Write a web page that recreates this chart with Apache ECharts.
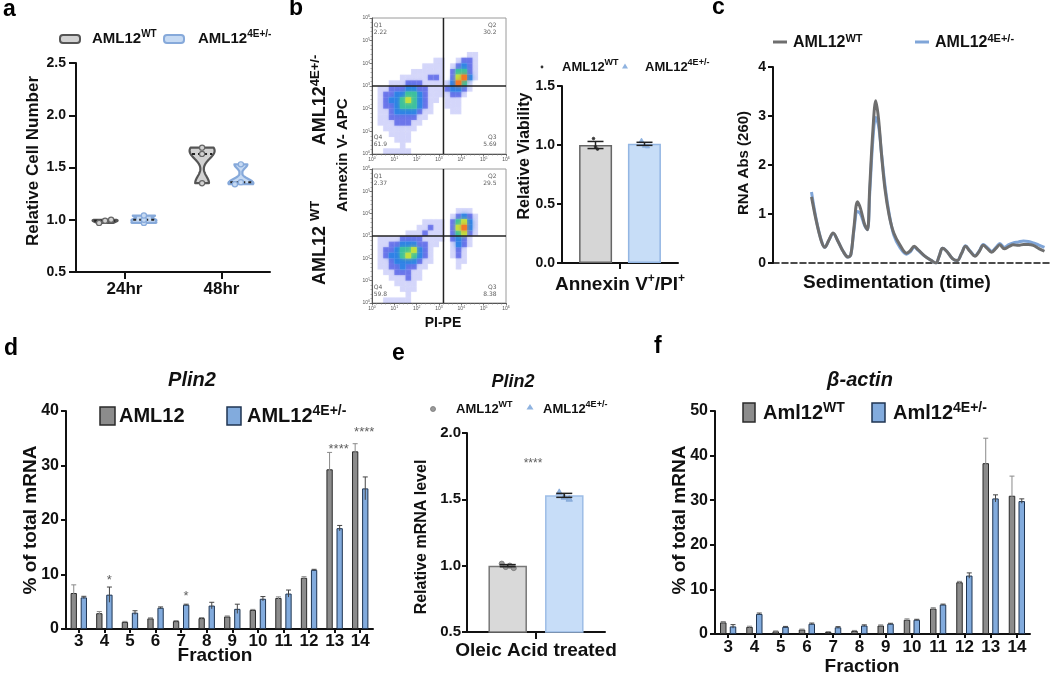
<!DOCTYPE html>
<html><head><meta charset="utf-8">
<script src="https://cdn.jsdelivr.net/npm/echarts@6.0.0/dist/echarts.min.js"></script>
<style>html,body{margin:0;padding:0;background:#fff;}#chart{width:1050px;height:675px;}</style>
</head><body><div id="chart"></div>
<script>
// ======================= DATA =======================
// (a) relative cell number, replicates
const timeCats = ['24hr', '48hr'];
const cellNumWT = [[0.97, 0.99, 1.00], [1.35, 1.63, 1.69]];
const cellNum4E = [[0.97, 1.00, 1.04], [1.34, 1.36, 1.53]];

// (b) flow cytometry density maps: 24x24 cells over log10 0..6, rows from top (10^6) to bottom (10^0), level 0-6
const flowDecades = [0, 1, 2, 3, 4, 5, 6];
const flowGate = [3.2, 3.0];
const flowTopDensity = [
  '000000000000000000000000','000000000000000000000000','000000000000000000000000',
  '000000000000000000000000','000000000000000000000000','000000000000000000000000',
  '000000000000000001100000','000000000001100122100000','000000000111101232100000',
  '000000011111102442100000','000001111122102563100000','000111222111113641000000',
  '011222332211123321000000','012233443211112210000000','012334543211011100000000',
  '012234443210011100000000','011233332110001100000000','011222221100000000000000',
  '011122211000000000000000','001111110000000000000000','000111100000000000000000',
  '000011100000000000000000','000001000000000000000000','001111100000000000000000'
];
const flowBotDensity = [
  '000000000000000000000000','000000000000000000000000','000000000000000000000000',
  '000000000000000000000000','000000000000000000000000','000000000000000000000000',
  '000000000000000000000000','000000000000000111000000','000000000000001232100000',
  '000000000111102453100000','000000001121102563100000','000000111211102452100000',
  '011112222111102321000000','011223332211001321000000','012234453210001210000000',
  '012334543210001210000000','011233332110000110000000','011223221100000100000000',
  '001122211000000000000000','000111211000000000000000','000011110000000000000000',
  '000001110000000000000000','000000100000000000000000','001111100000000000000000'
];
const quadNames = ['Q1', 'Q2', 'Q3', 'Q4'];
const flowTopPct = ['2.22', '30.2', '5.69', '61.9'];
const flowBotPct = ['2.37', '29.5', '8.38', '59.8'];

// (b) relative viability
const viabCats = ['Annexin V+/PI+'];
const viabMean = [1.00, 1.01];
const viabSem = [0.03, 0.013];
const viabPtsWT = [1.055, 0.985, 0.965];
const viabPts4E = [1.04, 0.995, 0.99];

// (c) polysome profile
const sedTime = [13.9,15.7,17.5,18.7,20.2,21.7,23.5,25.3,27.1,28.1,29.2,30.5,31.6,33.1,34.1,34.9,36.1,37.1,38.1,39.2,40.4,41.9,43.6,45.8,48.2,49.4,51.0,52.4,54.8,57.2,58.8,60.0,61.2,62.7,64.8,66.5,68.1,69.5,71.1,72.9,74.5,75.9,77.3,78.9,80.5,81.9,83.5,85.3,86.7,88.6,90.4,92.2,94.0,95.8,98.0];
const sedWT = [1.35,0.84,0.44,0.32,0.47,0.61,0.44,0.24,0.12,0.17,0.71,1.25,1.11,0.78,0.68,1.52,2.74,3.31,2.94,2.20,1.52,0.98,0.61,0.37,0.20,0.24,0.34,0.27,0.14,0.05,0.00,0.14,0.30,0.24,0.09,0.05,0.20,0.34,0.24,0.14,0.24,0.36,0.30,0.22,0.30,0.37,0.29,0.34,0.37,0.36,0.38,0.38,0.36,0.30,0.24];
const sed4E = [1.45,0.86,0.45,0.32,0.47,0.60,0.44,0.24,0.12,0.17,0.66,1.05,1.00,0.76,0.68,1.40,2.55,2.97,2.80,2.22,1.60,1.02,0.57,0.32,0.18,0.22,0.32,0.26,0.14,0.05,0.00,0.14,0.30,0.24,0.09,0.05,0.20,0.35,0.25,0.15,0.25,0.38,0.32,0.24,0.32,0.40,0.32,0.38,0.41,0.43,0.45,0.44,0.41,0.37,0.32];

// (d) Plin2 polysome fractions
const fractions = ['3','4','5','6','7','8','9','10','11','12','13','14'];
const plinWT = [6.6, 2.9, 1.3, 1.95, 1.45, 2.0, 2.3, 3.5, 5.7, 9.4, 29.3, 32.6];
const plinWTErr = [1.5, 0.3, 0.1, 0.1, 0.1, 0.1, 0.1, 0.1, 0.2, 0.2, 3.1, 1.4];
const plin4E = [5.8, 6.3, 3.0, 3.9, 4.45, 4.3, 3.7, 5.55, 6.5, 10.85, 18.5, 25.8];
const plin4EErr = [0.2, 1.4, 0.35, 0.15, 0.1, 0.6, 0.85, 0.4, 0.65, 0.1, 0.5, 2.1];
const plinStars = [[1, 8.9, '*', 'KO'], [4, 6.0, '*', 'KO'], [10, 32.9, '****', 'both'], [11, 36.0, '****', 'both']];

// (e) Plin2 oleic acid
const oleicCats = ['Oleic Acid treated'];
const oleicMean = [1.00, 1.53];
const oleicSem = [0.008, 0.015];
const oleicPtsWT = [1.015, 0.99, 1.0, 0.982];
const oleicPts4E = [1.555, 1.52, 1.505];
const oleicStars = [[0, 1.77, '****']];

// (f) beta-actin polysome fractions
const actinWT = [2.6, 1.6, 0.6, 1.0, 0.45, 0.7, 1.9, 3.2, 5.7, 11.6, 38.3, 31.0];
const actinWTErr = [0.2, 0.15, 0.1, 0.1, 0.1, 0.1, 0.15, 0.2, 0.2, 0.2, 5.6, 4.4];
const actin4E = [1.7, 4.5, 1.6, 2.3, 1.5, 1.9, 2.3, 3.2, 6.6, 13.1, 30.4, 29.8];
const actin4EErr = [0.4, 0.2, 0.1, 0.15, 0.15, 0.15, 0.1, 0.1, 0.1, 0.6, 0.8, 0.5];

// ======================= STYLE / HELPERS =======================
const F = '"Liberation Sans", Arial, Helvetica, sans-serif';
const INK = '#111';
const GRAY_FILL = '#8c8c8c', BLUE_FILL = '#82abdd';
const FLOW_COL = [null, 'rgba(70,80,235,0.20)', 'rgba(40,55,225,0.55)', 'rgba(40,125,230,0.9)', '#3cc0a0', '#c0e040', '#f07a28'];
const STEP = 0.25;

function RICH(m, s) {
  return {
    m: {fontFamily: F, fontSize: m, fontWeight: 'bold', color: INK, fill: INK, lineHeight: m + 4},
    s: {fontFamily: F, fontSize: s, fontWeight: 'bold', color: INK, fill: INK, lineHeight: s - 1, verticalAlign: 'top'}
  };
}
function rtext(x, y, parts, m, s, align, rot) {
  let str = '';
  parts.forEach((p, i) => { if (p) str += (i % 2 ? '{s|' : '{m|') + p + '}'; });
  return {type: 'text', x: x, y: y, rotation: rot || 0, silent: true, z: 50,
    style: {text: str, rich: RICH(m, s), align: align || 'left', verticalAlign: 'middle'}};
}
function ptext(x, y, str, size, opts) {
  opts = opts || {};
  return {type: 'text', x: x, y: y, rotation: opts.rot || 0, silent: true, z: 50,
    style: {text: str, fontFamily: F, fontSize: size, fontWeight: 'bold', fontStyle: opts.italic ? 'italic' : 'normal',
      fill: opts.color || INK, align: opts.align || 'center', verticalAlign: 'middle'}};
}
function median(a) { const s = a.slice().sort((x, y) => x - y); return s[Math.floor(s.length / 2)]; }
function lab(size, margin, fmt) {
  const o = {fontFamily: F, fontSize: size, fontWeight: 'bold', color: INK, margin: margin};
  if (fmt) o.formatter = fmt;
  return o;
}
const AX_LINE = {show: true, lineStyle: {color: INK, width: 2}};
const AX_TICK = (len) => ({show: true, length: len, lineStyle: {color: INK, width: 2}});
const fix1 = v => v.toFixed(1);

// flow axes
const flowLabel = {fontSize: 5, color: '#555', margin: 2,
  formatter: v => '{b|10}{s|' + v + '}',
  rich: {b: {fontSize: 5, color: '#555', lineHeight: 7}, s: {fontSize: 3.5, color: '#555', lineHeight: 3, verticalAlign: 'top'}}};
function flowAxis(gi) {
  return {gridIndex: gi, type: 'value', min: 0, max: 6, interval: 1,
    axisLine: {show: true, lineStyle: {color: '#555', width: 1}},
    axisTick: {show: true, length: 2.5, lineStyle: {color: '#555', width: 0.8}},
    minorTick: {show: true, splitNumber: 5, length: 1.5, lineStyle: {color: '#777', width: 0.6}},
    splitLine: {show: false}, axisLabel: flowLabel};
}
function flowCells(rows) {
  const out = [];
  rows.forEach((r, ri) => { for (let c = 0; c < r.length; c++) { const l = +r[c]; if (l > 0) out.push([c, ri, l]); } });
  return out.sort((a, b) => a[2] - b[2]);
}
function flowDensitySeries(gi, rows) {
  return {type: 'custom', xAxisIndex: gi, yAxisIndex: gi, clip: true, z: 2, silent: true,
    data: flowCells(rows),
    renderItem(params, api) {
      const c = api.value(0), r = api.value(1), l = api.value(2);
      const p0 = api.coord([c * STEP, 6 - r * STEP]);
      const p1 = api.coord([(c + 1) * STEP, 6 - (r + 1) * STEP]);
      return {type: 'rect', shape: {x: p0[0], y: p0[1], width: p1[0] - p0[0], height: p1[1] - p0[1]},
        style: {fill: FLOW_COL[l], shadowBlur: l > 2 ? 4 : 2, shadowColor: FLOW_COL[l]}};
    }};
}
function flowGateSeries(gi) {
  return {type: 'custom', xAxisIndex: gi, yAxisIndex: gi, z: 4, silent: true, data: [flowGate],
    renderItem(params, api) {
      const cs = params.coordSys, p = api.coord([api.value(0), api.value(1)]);
      return {type: 'group', children: [
        {type: 'line', shape: {x1: p[0], y1: cs.y, x2: p[0], y2: cs.y + cs.height}, style: {stroke: '#222', lineWidth: 1.5}},
        {type: 'line', shape: {x1: cs.x, y1: p[1], x2: cs.x + cs.width, y2: p[1]}, style: {stroke: '#222', lineWidth: 1.5}}]};
    }};
}
const QUAD_ANCHOR = [[0.1, 5.82, 'left'], [5.6, 5.82, 'right'], [5.6, 0.85, 'right'], [0.1, 0.85, 'left']];
function flowQuadSeries(gi, pct) {
  return {type: 'scatter', xAxisIndex: gi, yAxisIndex: gi, z: 5, symbolSize: 1, silent: true,
    itemStyle: {color: 'rgba(0,0,0,0)'},
    data: quadNames.map((q, i) => ({value: [QUAD_ANCHOR[i][0], QUAD_ANCHOR[i][1]],
      label: {show: true, formatter: q + '\n' + pct[i], position: [0, 0], align: QUAD_ANCHOR[i][2], verticalAlign: 'top',
        fontSize: 6, lineHeight: 7, color: '#333', fontFamily: '"DejaVu Sans", sans-serif'}}))};
}

// violins (a)
function violinSeries(groups, offFrac, fill, stroke, ptStroke) {
  return {type: 'custom', xAxisIndex: 0, yAxisIndex: 0, z: 3, silent: true,
    data: groups.map((g, i) => [i, median(g)]),
    renderItem(params, api) {
      const i = params.dataIndex, pts = groups[i].slice().sort((a, b) => a - b);
      const band = api.size([1, 0])[0];
      const cx = api.coord([i, pts[0]])[0] + offFrac * band;
      const lo = pts[0], hi = pts[pts.length - 1], range = hi - lo;
      const bw = Math.max(range * 0.2, 0.012);
      const N = 40, dens = []; let dmax = 0;
      const kde = y => pts.reduce((s, p) => { const z = (y - p) / bw; return s + Math.exp(-0.5 * z * z); }, 0);
      for (let k = 0; k <= N; k++) { const y = lo + range * k / N; const d = kde(y); dens.push([y, d]); dmax = Math.max(dmax, d); }
      const maxHalf = 12.5, left = [], right = [];
      dens.forEach(([y, d]) => { const py = api.coord([i, y])[1]; const w = Math.max(maxHalf * d / dmax, 1.5); left.push([cx - w, py]); right.push([cx + w, py]); });
      const poly = left.concat(right.reverse());
      const med = median(pts), wm = maxHalf * kde(med) / dmax, pm = api.coord([i, med])[1];
      const children = [
        {type: 'polygon', shape: {points: poly}, style: {fill: fill, stroke: stroke, lineWidth: 2.2, lineJoin: 'round'}},
        {type: 'line', shape: {x1: cx - wm + 1.5, y1: pm, x2: cx + wm - 1.5, y2: pm}, style: {stroke: '#222', lineWidth: 2, lineDash: [3, 3]}}
      ];
      pts.forEach((p, k) => {
        const close = pts.some((q, j) => j !== k && Math.abs(q - p) < 0.03);
        const dx = close ? (k - 1) * 6 : 0;
        children.push({type: 'circle', shape: {cx: cx + dx, cy: api.coord([i, p])[1], r: 2.6}, style: {fill: fill, stroke: ptStroke, lineWidth: 1.2}});
      });
      return {type: 'group', children: children};
    }};
}

// error bars for grouped fraction bars (d, f)
function errSeries(xi, vals, errs, offsetPx, color) {
  return {type: 'custom', xAxisIndex: xi, yAxisIndex: xi, z: 4, silent: true,
    data: vals.map((v, i) => [i, v, errs[i]]),
    renderItem(params, api) {
      const c = api.value(0), v = api.value(1), e = api.value(2);
      const top = api.coord([c, v + e]), bot = api.coord([c, v - e]);
      const x = top[0] + offsetPx;
      return {type: 'group', children: [
        {type: 'line', shape: {x1: x, y1: top[1], x2: x, y2: bot[1]}, style: {stroke: color, lineWidth: 1}},
        {type: 'line', shape: {x1: x - 2.5, y1: top[1], x2: x + 2.5, y2: top[1]}, style: {stroke: color, lineWidth: 1}}]};
    }};
}
// error bar + replicate markers for single-category bars (b, e)
function detailSeries(xi, mean, sem, pts, offsetPx, marker, mFill, mStroke, mSize, spread) {
  return {type: 'custom', xAxisIndex: xi, yAxisIndex: xi, z: 5, silent: true, data: [[0, mean]],
    renderItem(params, api) {
      const x = api.coord([0, mean])[0] + offsetPx;
      const yT = api.coord([0, mean + sem])[1], yB = api.coord([0, mean - sem])[1];
      const ch = [];
      pts.forEach((p, k) => {
        const y = api.coord([0, p])[1], px = x + (k - (pts.length - 1) / 2) * spread;
        if (marker === 'tri') ch.push({type: 'polygon', shape: {points: [[px, y - mSize], [px - mSize, y + mSize * 0.8], [px + mSize, y + mSize * 0.8]]}, style: {fill: mFill, stroke: mStroke, lineWidth: 0.8}});
        else ch.push({type: 'circle', shape: {cx: px, cy: y, r: mSize}, style: {fill: mFill, stroke: mStroke, lineWidth: 0.8}});
      });
      ch.push({type: 'line', shape: {x1: x, y1: yT, x2: x, y2: yB}, style: {stroke: '#222', lineWidth: 1.5}});
      ch.push({type: 'line', shape: {x1: x - 8, y1: yT, x2: x + 8, y2: yT}, style: {stroke: '#222', lineWidth: 1.5}});
      ch.push({type: 'line', shape: {x1: x - 8, y1: yB, x2: x + 8, y2: yB}, style: {stroke: '#222', lineWidth: 1.5}});
      return {type: 'group', children: ch};
    }};
}
function starSeries(xi, stars, offFn, size) {
  return {type: 'scatter', xAxisIndex: xi, yAxisIndex: xi, z: 6, symbolSize: 1, silent: true,
    itemStyle: {color: 'rgba(0,0,0,0)'},
    data: stars.map(s => ({value: [s[0], s[1]], label: {show: true, formatter: s[2], position: 'inside', offset: [offFn(s), 0],
      fontFamily: F, fontSize: size, color: '#333'}}))};
}

// ======================= CHART =======================
const chart = echarts.init(document.getElementById('chart'), null, {renderer: 'canvas'});
const gridBase = {containLabel: false, outerBoundsMode: 'none'};
const option = {
  backgroundColor: '#fff',
  animation: false,
  grid: [
    Object.assign({left: 76, top: 63, width: 194, height: 209}, gridBase),
    Object.assign({left: 372, top: 18, width: 134, height: 136, show: true, borderColor: '#9a9a9a', borderWidth: 1, backgroundColor: '#fff'}, gridBase),
    Object.assign({left: 372, top: 169, width: 134, height: 134, show: true, borderColor: '#9a9a9a', borderWidth: 1, backgroundColor: '#fff'}, gridBase),
    Object.assign({left: 562, top: 86, width: 116, height: 177}, gridBase),
    Object.assign({left: 773, top: 67, width: 277, height: 196}, gridBase),
    Object.assign({left: 66, top: 411, width: 307, height: 218}, gridBase),
    Object.assign({left: 467, top: 433, width: 138, height: 199}, gridBase),
    Object.assign({left: 715, top: 411, width: 315, height: 223}, gridBase)
  ],
  xAxis: [
    {gridIndex: 0, type: 'category', data: timeCats, axisLine: AX_LINE, axisTick: Object.assign({alignWithLabel: true}, AX_TICK(7)), axisLabel: lab(17, 9)},
    flowAxis(1), flowAxis(2),
    {gridIndex: 3, type: 'category', data: viabCats, axisLine: AX_LINE, axisTick: Object.assign({alignWithLabel: true}, AX_TICK(6)),
      axisLabel: {margin: 10, formatter: v => '{m|' + v.replace(/\+/g, '}{s|+}{m|') + '}', rich: RICH(19, 12)}},
    {gridIndex: 4, type: 'value', min: 0, max: 100, axisLine: {show: true, onZero: true, lineStyle: {color: INK, width: 1.5, type: 'dashed'}},
      axisTick: {show: false}, axisLabel: {show: false}, splitLine: {show: false}},
    {gridIndex: 5, type: 'category', data: fractions, axisLine: AX_LINE, axisTick: Object.assign({alignWithLabel: true}, AX_TICK(4)), axisLabel: lab(17, 4)},
    {gridIndex: 6, type: 'category', data: oleicCats, axisLine: AX_LINE, axisTick: Object.assign({alignWithLabel: true}, AX_TICK(7)), axisLabel: lab(19, 9)},
    {gridIndex: 7, type: 'category', data: fractions, axisLine: AX_LINE, axisTick: Object.assign({alignWithLabel: true}, AX_TICK(4)), axisLabel: lab(17, 5)}
  ],
  yAxis: [
    {gridIndex: 0, type: 'value', min: 0.5, max: 2.5, interval: 0.5, axisLine: AX_LINE, axisTick: AX_TICK(7), splitLine: {show: false}, axisLabel: lab(14, 10, fix1)},
    flowAxis(1), flowAxis(2),
    {gridIndex: 3, type: 'value', min: 0, max: 1.5, interval: 0.5, axisLine: AX_LINE, axisTick: AX_TICK(5), splitLine: {show: false}, axisLabel: lab(14, 7, fix1)},
    {gridIndex: 4, type: 'value', min: 0, max: 4, interval: 1, axisLine: AX_LINE, axisTick: AX_TICK(5), splitLine: {show: false}, axisLabel: lab(14, 7)},
    {gridIndex: 5, type: 'value', min: 0, max: 40, interval: 10, axisLine: AX_LINE, axisTick: AX_TICK(5), splitLine: {show: false}, axisLabel: lab(16, 7)},
    {gridIndex: 6, type: 'value', min: 0.5, max: 2.0, interval: 0.5, axisLine: AX_LINE, axisTick: AX_TICK(5), splitLine: {show: false}, axisLabel: lab(15, 6, fix1)},
    {gridIndex: 7, type: 'value', min: 0, max: 50, interval: 10, axisLine: AX_LINE, axisTick: AX_TICK(5), splitLine: {show: false}, axisLabel: lab(16, 7)}
  ],
  series: [
    // (a)
    violinSeries(cellNumWT, -0.2, '#d2d2d2', '#555', '#666'),
    violinSeries(cellNum4E, 0.2, '#c6daf3', '#86a9da', '#86a9da'),
    // (b) flow
    flowDensitySeries(1, flowTopDensity), flowGateSeries(1), flowQuadSeries(1, flowTopPct),
    flowDensitySeries(2, flowBotDensity), flowGateSeries(2), flowQuadSeries(2, flowBotPct),
    // (b) viability bars
    {type: 'bar', xAxisIndex: 3, yAxisIndex: 3, data: [viabMean[0]], barWidth: 33, barGap: '48%', silent: true,
      itemStyle: {color: '#d6d6d6', borderColor: '#666', borderWidth: 1.5}},
    {type: 'bar', xAxisIndex: 3, yAxisIndex: 3, data: [viabMean[1]], barWidth: 33, barGap: '48%', silent: true,
      itemStyle: {color: '#c7ddf7', borderColor: '#93b6e3', borderWidth: 1.5}},
    detailSeries(3, viabMean[0], viabSem[0], viabPtsWT, -24.5, 'dot', '#333', '#333', 1.3, 2),
    detailSeries(3, viabMean[1], viabSem[1], viabPts4E, 24.5, 'tri', '#8fb3e0', '#8fb3e0', 2.2, 3),
    // (c)
    {type: 'line', xAxisIndex: 4, yAxisIndex: 4, data: sedTime.map((t, i) => [t, sed4E[i]]), showSymbol: false, smooth: 0.35, silent: true,
      lineStyle: {color: '#7fa5d8', width: 3}, z: 3},
    {type: 'line', xAxisIndex: 4, yAxisIndex: 4, data: sedTime.map((t, i) => [t, sedWT[i]]), showSymbol: false, smooth: 0.35, silent: true,
      lineStyle: {color: '#6e6e6e', width: 3}, z: 4},
    // (d)
    {type: 'bar', xAxisIndex: 5, yAxisIndex: 5, data: plinWT, barWidth: 6.3, barGap: '60%', silent: true,
      itemStyle: {color: GRAY_FILL, borderColor: '#2a2a2a', borderWidth: 1}},
    {type: 'bar', xAxisIndex: 5, yAxisIndex: 5, data: plin4E, barWidth: 6.3, barGap: '60%', silent: true,
      itemStyle: {color: BLUE_FILL, borderColor: '#1f3552', borderWidth: 1}},
    errSeries(5, plinWT, plinWTErr, -5.05, '#8a8a8a'),
    errSeries(5, plin4E, plin4EErr, 5.05, '#444'),
    starSeries(5, plinStars, s => s[3] === 'KO' ? 5 : 4, 13),
    // (e)
    {type: 'bar', xAxisIndex: 6, yAxisIndex: 6, data: [oleicMean[0]], barWidth: 38.5, barGap: '47%', silent: true,
      itemStyle: {color: '#d9d9d9', borderColor: '#777', borderWidth: 1.5}},
    {type: 'bar', xAxisIndex: 6, yAxisIndex: 6, data: [oleicMean[1]], barWidth: 38.5, barGap: '47%', silent: true,
      itemStyle: {color: '#c7ddf8', borderColor: '#9dbde6', borderWidth: 1.5}},
    detailSeries(6, oleicMean[0], oleicSem[0], oleicPtsWT, -28.25, 'dot', '#9a9a9a', '#777', 2.6, 4),
    detailSeries(6, oleicMean[1], oleicSem[1], oleicPts4E, 28.25, 'tri', '#8fb3e0', '#7fa3d6', 3.2, 5),
    starSeries(6, oleicStars, () => -3, 12),
    // (f)
    {type: 'bar', xAxisIndex: 7, yAxisIndex: 7, data: actinWT, barWidth: 6.5, barGap: '50%', silent: true,
      itemStyle: {color: GRAY_FILL, borderColor: '#2a2a2a', borderWidth: 1}},
    {type: 'bar', xAxisIndex: 7, yAxisIndex: 7, data: actin4E, barWidth: 6.5, barGap: '50%', silent: true,
      itemStyle: {color: BLUE_FILL, borderColor: '#1f3552', borderWidth: 1}},
    errSeries(7, actinWT, actinWTErr, -4.9, '#8a8a8a'),
    errSeries(7, actin4E, actin4EErr, 4.9, '#444')
  ],
  graphic: [
    // panel letters
    ptext(3, 10, 'a', 23, {align: 'left', color: '#000'}),
    ptext(289, 9, 'b', 23, {align: 'left', color: '#000'}),
    ptext(712, 8, 'c', 23, {align: 'left', color: '#000'}),
    ptext(4, 349, 'd', 23, {align: 'left', color: '#000'}),
    ptext(392, 354, 'e', 23, {align: 'left', color: '#000'}),
    ptext(654, 347, 'f', 23, {align: 'left', color: '#000'}),
    // (a) legend + titles
    {type: 'rect', shape: {x: 60, y: 35, width: 20, height: 8, r: 3}, style: {fill: '#d2d2d2', stroke: '#555', lineWidth: 2}},
    rtext(92, 39, ['AML12', 'WT'], 15, 10),
    {type: 'rect', shape: {x: 164, y: 35, width: 20, height: 8, r: 3}, style: {fill: '#c6daf3', stroke: '#86a9da', lineWidth: 2}},
    rtext(198, 39, ['AML12', '4E+/-'], 15, 10),
    ptext(33, 161, 'Relative Cell Number', 17, {rot: Math.PI / 2}),
    // (b) flow labels
    rtext(320, 100, ['AML12', '4E+/-'], 18, 13, 'center', Math.PI / 2),
    ptext(343, 155, 'Annexin V- APC', 15, {rot: Math.PI / 2}),
    rtext(320, 243, ['AML12 ', 'WT'], 18, 13, 'center', Math.PI / 2),
    ptext(443, 323, 'PI-PE', 14),
    // (b) viability legend + title
    {type: 'circle', shape: {cx: 542, cy: 67, r: 1.4}, style: {fill: '#333'}},
    rtext(562, 67, ['AML12', 'WT'], 13, 9),
    {type: 'polygon', shape: {points: [[625, 63.5], [622, 68.5], [628, 68.5]]}, style: {fill: '#8fb3e0'}},
    rtext(645, 67, ['AML12', '4E+/-'], 13, 9),
    ptext(525, 156, 'Relative Viability', 16, {rot: Math.PI / 2}),
    // (c)
    {type: 'line', shape: {x1: 773, y1: 42, x2: 787, y2: 42}, style: {stroke: '#6e6e6e', lineWidth: 3}},
    rtext(793, 43, ['AML12', 'WT'], 16, 11),
    {type: 'line', shape: {x1: 915, y1: 42, x2: 929, y2: 42}, style: {stroke: '#7fa5d8', lineWidth: 3}},
    rtext(935, 43, ['AML12', '4E+/-'], 16, 11),
    ptext(744, 163, 'RNA Abs (260)', 15, {rot: Math.PI / 2}),
    ptext(897, 283, 'Sedimentation (time)', 19),
    // (d)
    ptext(192, 380, 'Plin2', 20, {italic: true}),
    {type: 'rect', shape: {x: 100, y: 407, width: 15, height: 18}, style: {fill: GRAY_FILL, stroke: '#2a2a2a', lineWidth: 1.5}},
    ptext(119, 416, 'AML12', 20, {align: 'left'}),
    {type: 'rect', shape: {x: 227, y: 407, width: 14, height: 18}, style: {fill: BLUE_FILL, stroke: '#1f3552', lineWidth: 1.5}},
    rtext(247, 416, ['AML12', '4E+/-'], 20, 14),
    ptext(31, 520, '% of total mRNA', 19, {rot: Math.PI / 2}),
    ptext(215, 656, 'Fraction', 19),
    // (e)
    ptext(513, 382, 'Plin2', 18, {italic: true}),
    {type: 'circle', shape: {cx: 433, cy: 409, r: 2.5}, style: {fill: '#9a9a9a', stroke: '#777', lineWidth: 0.8}},
    rtext(456, 409, ['AML12', 'WT'], 13, 9),
    {type: 'polygon', shape: {points: [[530, 404], [526.5, 409.5], [533.5, 409.5]]}, style: {fill: '#8fb3e0'}},
    rtext(543, 409, ['AML12', '4E+/-'], 13, 9),
    ptext(422, 537, 'Relative mRNA level', 16, {rot: Math.PI / 2}),
    // (f)
    ptext(860, 380, '\u03b2-actin', 20, {italic: true}),
    {type: 'rect', shape: {x: 743, y: 403, width: 12, height: 19}, style: {fill: GRAY_FILL, stroke: '#2a2a2a', lineWidth: 1.5}},
    rtext(763, 413, ['Aml12', 'WT'], 20, 14),
    {type: 'rect', shape: {x: 872, y: 403, width: 13, height: 19}, style: {fill: BLUE_FILL, stroke: '#1f3552', lineWidth: 1.5}},
    rtext(893, 413, ['Aml12', '4E+/-'], 20, 14),
    ptext(680, 520, '% of total mRNA', 19, {rot: Math.PI / 2}),
    ptext(862, 667, 'Fraction', 19)
  ]
};
chart.setOption(option);
</script>
</body></html>
